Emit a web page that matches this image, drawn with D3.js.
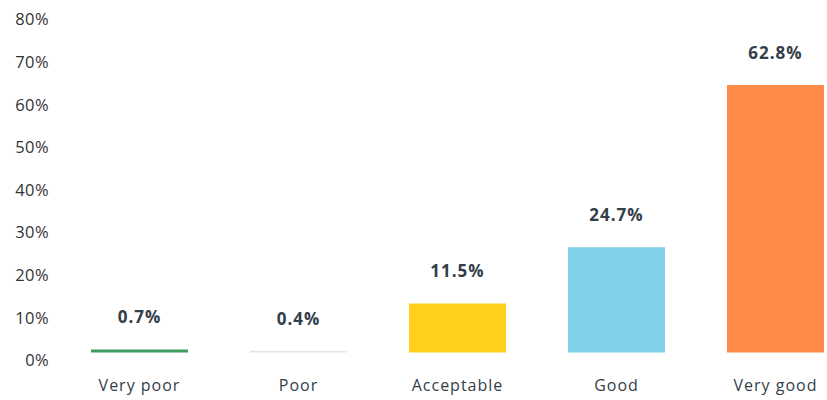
<!DOCTYPE html>
<html>
<head>
<meta charset="utf-8">
<script src="https://cdn.jsdelivr.net/npm/d3@7"></script>
<style>
  body { margin: 0; background: #fff; }
  text { font-family: "Open Sans", sans-serif; }
</style>
</head>
<body>
<svg class="chart"></svg>
<script>
// data
var categories = ["Very poor", "Poor", "Acceptable", "Good", "Very good"];
var values = [0.7, 0.4, 11.5, 24.7, 62.8];
var colors = ["#3f9b5e", "#e6e6e6", "#ffcf1c", "#7fd2ea", "#ff8a47"];
var yTicks = [0, 10, 20, 30, 40, 50, 60, 70, 80];

var width = 827, height = 400;

var svg = d3.select("svg.chart")
    .attr("width", width)
    .attr("height", height);

// scales
var x = d3.scaleBand()
    .domain(categories)
    .range([91, 824])
    .paddingInner(0.39)
    .paddingOuter(0);

var y = d3.scaleLinear()
    .domain([0, 80])
    .range([352.5, 11.7]);

// y axis labels (no line, no ticks), sit a bit below the bar baseline
var yAxis = d3.axisLeft(y)
    .tickValues(yTicks)
    .tickFormat(function (d) { return d + "%"; })
    .tickSize(0)
    .tickPadding(0);

var gy = svg.append("g")
    .attr("transform", "translate(49,8)")
    .call(yAxis);
gy.select(".domain").remove();
gy.selectAll("text")
    .attr("fill", "#333")
    .style("font-size", "16.5px")
    .style("letter-spacing", "0.4px")
    .style("font-family", "'Open Sans', sans-serif");

// bars
svg.selectAll("rect.bar")
    .data(values)
    .enter().append("rect")
    .attr("class", "bar")
    .attr("x", function (d, i) { return x(categories[i]); })
    .attr("y", function (d) { return y(d); })
    .attr("width", x.bandwidth())
    .attr("height", function (d) { return y(0) - y(d); })
    .attr("fill", function (d, i) { return colors[i]; });

// value labels
svg.selectAll("text.value")
    .data(values)
    .enter().append("text")
    .attr("class", "value")
    .attr("x", function (d, i) { return x(categories[i]) + x.bandwidth() / 2; })
    .attr("y", function (d) { return y(d) - 32; })
    .attr("dy", "0.35em")
    .attr("text-anchor", "middle")
    .attr("fill", "#333e48")
    .style("font-size", "17px")
    .style("font-weight", "bold")
    .style("letter-spacing", "1px")
    .text(function (d) { return d.toFixed(1) + "%"; });

// category labels
var xAxis = d3.axisBottom(x).tickSize(0).tickPadding(0);
var gx = svg.append("g")
    .attr("transform", "translate(0,385)")
    .call(xAxis);
gx.select(".domain").remove();
gx.selectAll("text")
    .attr("dy", "0.35em")
    .attr("fill", "#333e48")
    .style("font-size", "16px")
    .style("letter-spacing", "1px")
    .style("font-family", "'Open Sans', sans-serif");
</script>
</body>
</html>
